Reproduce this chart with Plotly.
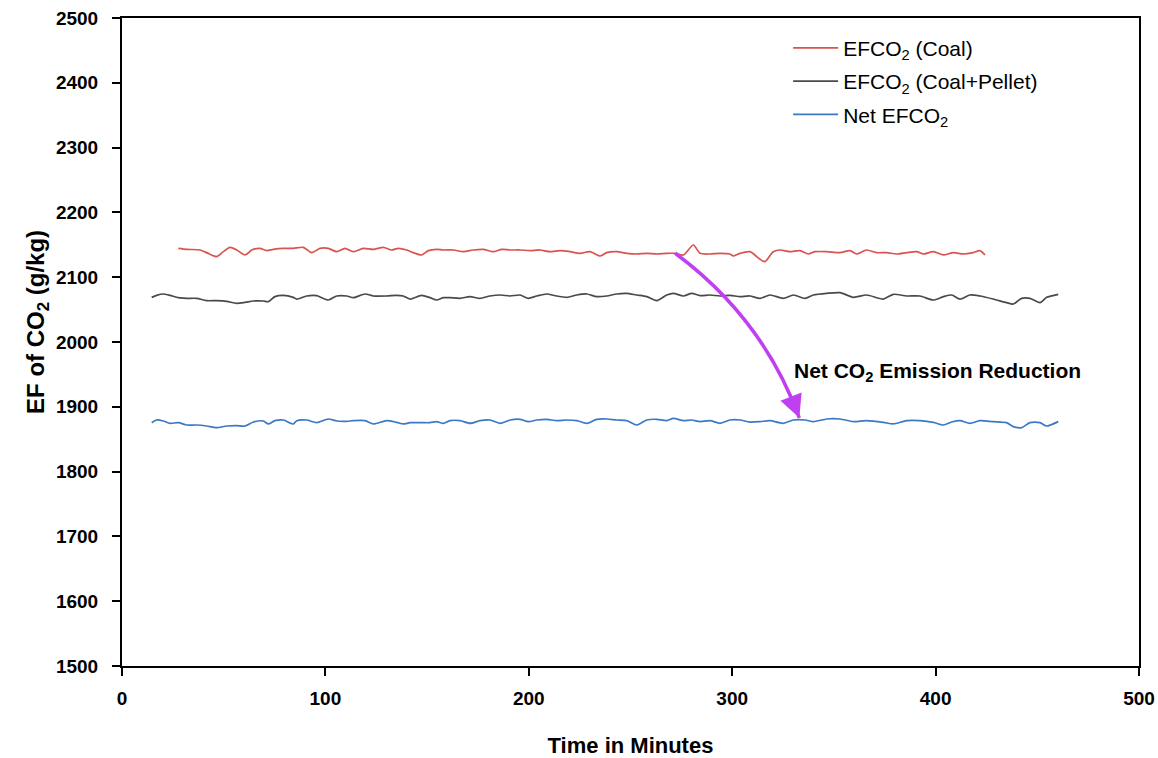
import plotly.graph_objects as go

# ---------------- data ----------------
coal_t = [27.7, 31.8, 38.3, 42.4, 46.5, 49.8, 53.1, 56.4, 60.5, 63.8, 67.8, 71.1, 74.4, 79.3, 84.2,
          89.1, 93.3, 97.3, 101.4, 105.6, 109.6, 113.7, 118.6, 123.6, 128.5, 132.6, 135.8, 140.0,
          143.2, 147.3, 150.6, 154.7, 158.0, 162.9, 167.8, 172.7, 177.6, 182.5, 186.7, 190.8, 195.7,
          200.6, 205.5, 210.4, 215.3, 220.3, 225.2, 230.1, 235.0, 238.3, 243.2, 248.1, 253.0, 258.0,
          262.9, 267.8, 271.9, 276.0, 280.9, 284.2, 289.1, 294.0, 298.9, 300.5, 303.8, 308.7, 313.7,
          316.1, 320.2, 323.5, 328.4, 333.3, 337.4, 340.7, 346.5, 353.0, 357.9, 361.2, 366.1, 371.0,
          375.9, 380.9, 385.8, 390.7, 394.0, 398.9, 403.8, 408.7, 413.6, 418.5, 421.8, 424.3]
coal_ef = [2144.5, 2143.0, 2142.0, 2136.8, 2131.7, 2139.4, 2146.1, 2142.0, 2134.3, 2142.0, 2144.5,
           2141.0, 2143.0, 2144.5, 2144.5, 2146.1, 2137.9, 2144.5, 2144.5, 2139.4, 2144.5, 2139.4,
           2144.5, 2143.0, 2146.1, 2142.0, 2144.5, 2142.0, 2137.9, 2134.3, 2141.0, 2143.0, 2142.0,
           2142.0, 2139.4, 2142.0, 2143.0, 2139.4, 2143.0, 2142.0, 2142.0, 2141.0, 2142.0, 2139.4,
           2141.0, 2139.4, 2136.8, 2139.4, 2132.7, 2137.9, 2139.4, 2136.8, 2135.8, 2136.8, 2135.8,
           2136.8, 2136.8, 2134.3, 2149.7, 2136.8, 2135.8, 2136.8, 2135.8, 2132.7, 2136.8, 2139.4,
           2127.6, 2124.0, 2139.4, 2142.0, 2139.4, 2141.0, 2135.8, 2139.4, 2139.4, 2137.9, 2141.0,
           2135.8, 2142.0, 2137.9, 2137.9, 2135.8, 2137.9, 2139.4, 2135.8, 2139.4, 2134.3, 2137.9,
           2135.8, 2137.9, 2141.0, 2134.3]

mix_t = [14.6, 17.0, 20.3, 23.6, 27.7, 31.8, 36.7, 41.6, 46.5, 51.5, 56.4, 60.5, 64.6, 69.5, 71.9,
         75.2, 79.3, 84.2, 85.9, 90.8, 95.7, 101.4, 105.6, 110.5, 113.7, 119.5, 123.6, 130.1, 135.0,
         138.3, 141.6, 147.3, 151.4, 154.7, 158.0, 161.2, 166.2, 171.1, 176.0, 180.9, 185.9, 190.8,
         195.7, 199.8, 203.9, 208.8, 213.7, 218.7, 223.6, 228.5, 233.4, 238.3, 243.2, 248.1, 253.0,
         258.0, 262.9, 267.8, 271.1, 276.0, 280.1, 284.2, 289.1, 294.0, 298.9, 303.8, 308.7, 313.7,
         318.6, 325.1, 330.1, 335.8, 339.9, 346.5, 353.0, 359.6, 366.1, 374.3, 379.2, 385.8, 392.3,
         398.9, 403.8, 407.9, 412.0, 416.9, 421.8, 428.3, 434.9, 438.2, 442.3, 446.4, 451.3, 454.6,
         460.3]
mix_ef = [2068.9, 2072.0, 2074.1, 2072.0, 2068.4, 2067.4, 2067.4, 2063.8, 2063.8, 2062.7, 2059.7,
          2061.2, 2063.3, 2063.3, 2062.2, 2070.0, 2072.0, 2068.9, 2066.3, 2071.0, 2071.5, 2064.8,
          2071.0, 2071.0, 2068.4, 2074.1, 2071.0, 2071.0, 2072.0, 2071.0, 2066.3, 2072.0, 2068.4,
          2064.8, 2068.4, 2068.4, 2067.4, 2070.0, 2067.4, 2071.0, 2072.5, 2071.0, 2072.5, 2067.4,
          2071.0, 2074.1, 2071.0, 2068.9, 2072.5, 2074.1, 2070.0, 2071.0, 2074.1, 2075.1, 2072.5,
          2070.0, 2063.8, 2072.5, 2075.1, 2071.0, 2075.1, 2071.5, 2072.5, 2071.0, 2072.0, 2070.0,
          2071.0, 2067.4, 2072.5, 2067.4, 2072.5, 2067.4, 2072.5, 2075.1, 2076.1, 2069.0, 2072.5,
          2066.3, 2073.6, 2071.0, 2071.0, 2064.8, 2070.0, 2072.5, 2066.3, 2072.5, 2071.0, 2066.3,
          2060.7, 2058.6, 2067.4, 2067.4, 2060.7, 2068.9, 2073.6]

net_t = mix_t[:]
net_ef = [1875.5, 1879.6, 1878.1, 1874.5, 1875.5, 1871.9, 1871.9, 1870.4, 1867.8, 1870.4, 1870.9,
          1870.4, 1876.5, 1878.1, 1873.5, 1878.6, 1879.6, 1873.5, 1878.6, 1879.6, 1875.5, 1881.2,
          1878.1, 1877.6, 1878.6, 1878.6, 1873.5, 1878.6, 1876.0, 1873.5, 1875.5, 1875.5, 1875.5,
          1877.1, 1874.5, 1878.6, 1878.6, 1874.5, 1878.6, 1879.6, 1874.5, 1879.6, 1880.7, 1877.1,
          1879.6, 1880.7, 1878.6, 1879.6, 1878.6, 1874.5, 1880.7, 1881.2, 1879.6, 1878.6, 1871.9,
          1879.6, 1880.7, 1878.6, 1882.2, 1878.6, 1879.6, 1877.1, 1878.6, 1874.5, 1879.6, 1879.6,
          1876.5, 1877.1, 1878.6, 1874.5, 1879.6, 1879.6, 1877.1, 1881.2, 1881.2, 1877.1, 1878.6,
          1876.0, 1873.5, 1878.6, 1878.6, 1876.0, 1871.9, 1876.5, 1878.6, 1874.5, 1878.6, 1877.1,
          1875.5, 1869.4, 1867.8, 1875.5, 1875.5, 1870.4, 1877.1, 1879.6]

x_ticks = [0, 100, 200, 300, 400, 500]
y_ticks = [1500, 1600, 1700, 1800, 1900, 2000, 2100, 2200, 2300, 2400, 2500]

series_names = ["EFCO<sub>2</sub> (Coal)", "EFCO<sub>2</sub> (Coal+Pellet)", "Net EFCO<sub>2</sub>"]
series_colors = ["#d9534f", "#4a4a4a", "#3c79c4"]

# arrow: start on coal line, end on net line (data coordinates)
arrow_start = (272, 2137)
arrow_ctrl = (315, 2037)
arrow_end = (333, 1883)
note_pos = (401, 1954)

FONT = "Liberation Sans, Arial, sans-serif"

fig = go.Figure()
for i, (t, ef, name, col) in enumerate(zip([coal_t, mix_t, net_t], [coal_ef, mix_ef, net_ef],
                                           series_names, series_colors)):
    fig.add_trace(go.Scatter(x=t, y=ef, mode="lines", name=name, legendgroup=f"g{i}",
                             line=dict(color=col, width=1.7, shape="spline", smoothing=0.7)))

fig.add_shape(type="path", xref="x", yref="y",
              path=f"M {arrow_start[0]},{arrow_start[1]} Q {arrow_ctrl[0]},{arrow_ctrl[1]} {arrow_end[0]},{arrow_end[1]}",
              line=dict(color="#c03ff0", width=3.5))
fig.add_annotation(x=arrow_end[0], y=arrow_end[1], ax=arrow_end[0] - 2.5, ay=arrow_end[1] + 20,
                   xref="x", yref="y", axref="x", ayref="y", text="", showarrow=True,
                   arrowhead=2, arrowsize=1.3, arrowwidth=3.5, arrowcolor="#c03ff0", standoff=0)
fig.add_annotation(x=note_pos[0], y=note_pos[1], xref="x", yref="y",
                   text="<b>Net CO<sub>2</sub> Emission Reduction</b>", showarrow=False,
                   font=dict(family=FONT, size=21, color="black"))
# y axis title placed as rotated annotation (sits slightly above the plot centre in the reference)
fig.add_annotation(x=-0.0826, xref="x domain", y=2031, yref="y", xanchor="center", yanchor="middle",
                   text="<b>EF of CO<sub>2</sub> (g/kg)</b>", textangle=-90, showarrow=False,
                   font=dict(family=FONT, size=24, color="black"))

fig.update_layout(
    width=1158, height=758,
    margin=dict(l=122, r=19, t=18, b=92),
    paper_bgcolor="white", plot_bgcolor="white",
    font=dict(family=FONT, color="black"),
    showlegend=True,
    legend=dict(x=0.655, y=0.985, xanchor="left", yanchor="top",
                bgcolor="rgba(0,0,0,0)", font=dict(size=21, family=FONT),
                itemwidth=45, tracegroupgap=3),
)
fig.update_xaxes(range=[0, 500], tickvals=x_ticks, ticktext=[str(v) for v in x_ticks],
                 showgrid=False, zeroline=False, showline=True, linecolor="black", linewidth=2,
                 mirror=True, ticks="outside", ticklen=8, tickwidth=2, tickcolor="black",
                 tickfont=dict(size=19, family=FONT, weight="bold"), ticklabelstandoff=6,
                 automargin=False,
                 title=dict(text="<b>Time in Minutes</b>", font=dict(size=22, family=FONT), standoff=34))
fig.update_yaxes(range=[1500, 2500], tickvals=y_ticks, ticktext=[str(v) for v in y_ticks],
                 showgrid=False, zeroline=False, showline=True, linecolor="black", linewidth=2,
                 mirror=True, ticks="outside", ticklen=8, tickwidth=2, tickcolor="black",
                 tickfont=dict(size=19, family=FONT, weight="bold"), ticklabelstandoff=10,
                 automargin=False)

# remove the browser's default 8px body margin so the figure sits at the page origin
fig.write_html("out.html", config={"displayModeBar": False},
               post_script="document.body.style.margin='0';")
